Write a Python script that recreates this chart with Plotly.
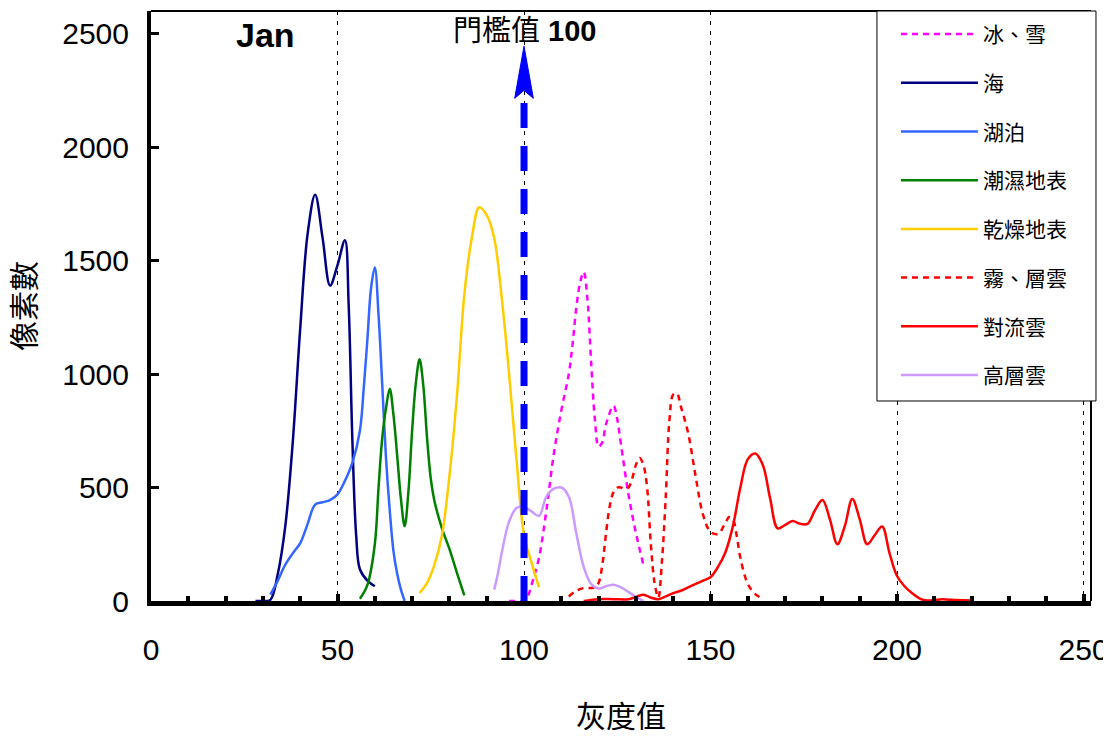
import plotly.graph_objects as go

# ---------------- data ----------------
sea_x = [28, 30, 32, 34, 36, 38, 40, 42, 44, 46, 48, 50, 52, 53, 54, 55, 56, 58, 60]
sea_y = [0, 0, 5, 120, 330, 700, 1200, 1620, 1790, 1600, 1390, 1480, 1590, 1300, 700, 290, 140, 90, 65]

lake_x = [32, 34, 36, 38, 40, 42, 44, 46, 48, 50, 52, 54, 56, 57, 58, 59, 60, 61, 62, 63, 64, 65, 66, 67, 68]
lake_y = [28, 90, 160, 210, 255, 340, 425, 435, 445, 470, 530, 610, 750, 930, 1150, 1380, 1470, 1260, 950, 630, 400, 220, 120, 50, 0]

wet_x = [56, 58, 60, 61, 62, 63, 64, 65, 66, 67, 68, 69, 70, 71, 72, 73, 74, 75, 76, 78, 80, 82, 84]
wet_y = [10, 70, 250, 500, 720, 850, 935, 820, 640, 450, 330, 480, 750, 960, 1065, 950, 720, 540, 440, 320, 230, 125, 25]

dry_x = [72, 74, 76, 78, 80, 82, 84, 86, 88, 90, 92, 94, 96, 98, 100, 102, 104]
dry_y = [35, 80, 160, 290, 550, 900, 1350, 1600, 1735, 1700, 1600, 1340, 1000, 620, 290, 170, 60]

snow_x = [96, 98, 100, 101, 102, 104, 106, 108, 110, 112, 113, 114, 115, 116, 117, 118, 119, 120, 121, 122, 124, 125, 126, 128, 130, 132]
snow_y = [0, 0, 0, 20, 70, 190, 400, 650, 840, 1000, 1130, 1290, 1400, 1450, 1330, 1050, 800, 680, 700, 780, 860, 800, 690, 470, 300, 160]

fog_x = [112, 114, 116, 118, 119, 120, 121, 122, 123, 124, 125, 126, 127, 128, 129, 130, 131, 132, 133, 134, 135, 136, 137, 138, 139, 140, 141, 142, 144, 146, 148, 150, 152, 154, 155, 156, 157, 158, 160, 162, 164]
fog_y = [20, 45, 57, 57, 60, 80, 160, 300, 420, 480, 500, 500, 495, 500, 540, 600, 630, 600, 500, 250, 80, 15, 180, 460, 800, 910, 915, 860, 740, 550, 380, 305, 295, 345, 370, 360, 290, 190, 75, 30, 10]

conv_x = [116, 120, 124, 128, 130, 132, 134, 136, 138, 140, 142, 144, 146, 148, 150, 152, 154, 156, 158, 160, 162, 164, 166, 168, 170, 172, 174, 176, 178, 180, 182, 184, 186, 188, 190, 192, 194, 196, 198, 200, 202, 204, 206, 208, 210, 212, 214, 216, 218, 220]
conv_y = [0, 8, 8, 8, 18, 28, 15, 8, 20, 35, 45, 60, 75, 90, 105, 150, 215, 330, 500, 625, 650, 600, 450, 320, 335, 352, 340, 340, 400, 445, 360, 250, 330, 450, 360, 250, 290, 328, 210, 110, 65, 35, 12, 2, 4, 8, 6, 4, 3, 2]

high_x = [92, 93, 94, 96, 98, 100, 102, 104, 106, 108, 110, 112, 114, 116, 118, 120, 122, 124, 126, 128, 130, 132]
high_y = [50, 120, 210, 350, 410, 415, 395, 375, 460, 495, 500, 460, 300, 150, 75, 55, 65, 72, 60, 40, 18, 0]

threshold = 100
arrow_tip = 2445
arrow_base = 2215
arrow_half = 2.5

x_ticks = [0, 50, 100, 150, 200, 250]
y_ticks = [0, 500, 1000, 1500, 2000, 2500]

# ---------------- figure ----------------
FONT = "Liberation Sans, Arial, Noto Sans CJK TC, sans-serif"
PAGE = 8  # the html body margin offsets the figure by this many pixels

series = [
    ("冰、雪", snow_x, snow_y, "#FF00FF", "6px,5px"),
    ("海", sea_x, sea_y, "#000080", "solid"),
    ("湖泊", lake_x, lake_y, "#3366FF", "solid"),
    ("潮濕地表", wet_x, wet_y, "#008000", "solid"),
    ("乾燥地表", dry_x, dry_y, "#FFCC00", "solid"),
    ("霧、層雲", fog_x, fog_y, "#FF0000", "6px,5px"),
    ("對流雲", conv_x, conv_y, "#FF0000", "solid"),
    ("高層雲", high_x, high_y, "#CC99FF", "solid"),
]

fig = go.Figure()
for i, (name, xs, ys, color, dash) in enumerate(series):
    fig.add_trace(go.Scatter(
        x=xs, y=ys, name=name, mode="lines",
        line=dict(color=color, width=2.5, dash=dash, shape="spline", smoothing=1.0),
        legendgroup=f"g{i}",
    ))

# threshold arrow (dashed shaft + head)
fig.add_shape(type="line", x0=threshold, x1=threshold, y0=0, y1=arrow_base + 15,
              xref="x", yref="y", layer="above",
              line=dict(color="#0000FF", width=7, dash="25px,18px"))
head = (f"M {threshold},{arrow_tip} L {threshold - arrow_half},{arrow_base} "
        f"L {threshold},{arrow_base + 35} L {threshold + arrow_half},{arrow_base} Z")
fig.add_shape(type="path", path=head, xref="x", yref="y", layer="above",
              fillcolor="#0000FF", line=dict(color="#0000FF", width=1))

# top & right frame lines
fig.add_shape(type="line", xref="paper", yref="paper", x0=0, x1=1, y0=1, y1=1,
              line=dict(color="black", width=2), layer="above")
fig.add_shape(type="line", xref="paper", yref="paper", x0=1, x1=1, y0=0, y1=1,
              line=dict(color="black", width=2), layer="above")

# legend frame (the legend box is wider than its entries)
LEG_X0, LEG_X1, LEG_Y0, LEG_Y1 = 0.7723, 1.0053, 0.339, 1.0
fig.add_shape(type="rect", xref="paper", yref="paper", x0=LEG_X0, x1=LEG_X1, y0=LEG_Y0, y1=LEG_Y1,
              fillcolor="white", line=dict(color="black", width=1), layer="above")

fig.add_annotation(text="<b>Jan</b>", xref="paper", yref="paper", x=0.088, y=0.995,
                   xanchor="left", yanchor="top",
                   showarrow=False, font=dict(size=34, color="black", family=FONT))
fig.add_annotation(text="門檻值 <b>100</b>", xref="x", yref="paper", x=threshold, y=0.997,
                   xanchor="center", yanchor="top",
                   showarrow=False, font=dict(size=29, color="black", family=FONT))

fig.update_layout(
    width=1111, height=736,
    margin=dict(l=151 - PAGE, r=20 + PAGE, t=11 - PAGE, b=135 + PAGE, autoexpand=False),
    paper_bgcolor="white", plot_bgcolor="white",
    font=dict(family=FONT, color="black"),
    showlegend=True,
    legend=dict(x=LEG_X0, y=0.995, xanchor="left", yanchor="top",
                bgcolor="rgba(0,0,0,0)", borderwidth=0,
                font=dict(size=21, family=FONT), tracegroupgap=18.4,
                itemwidth=77, indentation=19),
    xaxis=dict(range=[0, 252], tickvals=x_ticks, ticks="inside", ticklen=7, tickwidth=4,
               tickcolor="black", showline=True, linewidth=5, linecolor="black",
               showgrid=True, gridcolor="black", gridwidth=1, griddash="4px,6px",
               zeroline=False, tickfont=dict(size=30), ticklabelstandoff=18, automargin=False,
               minor=dict(dtick=10, tick0=0, ticks="inside", ticklen=5, tickwidth=4, tickcolor="black",
                          showgrid=False),
               title=dict(text="灰度值", font=dict(size=30), standoff=42)),
    yaxis=dict(range=[0, 2600], tickvals=y_ticks, ticks="inside", ticklen=8, tickwidth=3,
               tickcolor="black", showline=True, linewidth=4, linecolor="black",
               showgrid=False, zeroline=False, tickfont=dict(size=30), ticklabelstandoff=12,
               automargin=False,
               title=dict(text="像素數", font=dict(size=30), standoff=24)),
)

fig.write_html("out.html")
